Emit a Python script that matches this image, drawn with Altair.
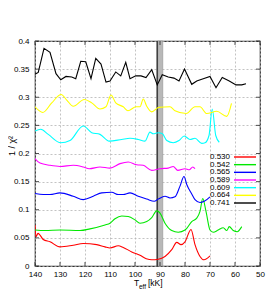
import altair as alt
import pandas as pd

series_names = ["0.530", "0.542", "0.565", "0.589", "0.609", "0.664", "0.741"]
series_colors = ["#ff0000", "#00e800", "#0000ff", "#ff00ff", "#00ffff", "#ffff00", "#000000"]

x_530 = [140, 139.6, 138.8, 138, 136.7, 134, 130, 124.7, 120.7, 115.3, 112, 110, 106.7, 104.7,
         101.3, 98, 95.5, 93.3, 90.7, 88, 85.3, 83.3, 81.6, 80, 77.6, 76, 74, 72.4, 70]
y_530 = [0.073, 0.052, 0.058, 0.055, 0.047, 0.043, 0.034, 0.037, 0.040, 0.038, 0.034, 0.032, 0.036, 0.033,
         0.025, 0.019, 0.013, 0.011, 0.012, 0.017, 0.029, 0.042, 0.038, 0.043, 0.065, 0.038, 0.017, 0.011, 0.018]

x_542 = [140, 136, 130, 122, 118, 112, 110, 108, 105.3, 102.7, 100, 98, 95.3, 93.3, 91.3, 90, 88,
         85.3, 82.7, 80, 79.3, 77.3, 75.3, 74, 72.9, 71.6, 70, 68.7, 66.7, 64.7, 63.3, 62.3, 60.7, 59.1, 57.3]
y_542 = [0.064, 0.063, 0.064, 0.063, 0.066, 0.073, 0.076, 0.084, 0.089, 0.088, 0.082, 0.076, 0.079, 0.086,
         0.098, 0.094, 0.076, 0.063, 0.060, 0.064, 0.067, 0.079, 0.085, 0.097, 0.120, 0.097, 0.064, 0.060,
         0.064, 0.068, 0.063, 0.070, 0.063, 0.061, 0.070]

x_565 = [140, 136.7, 134, 130, 124.7, 120.7, 116.7, 113.3, 109.3, 106.7, 104.7, 102, 98.7, 95.3, 92.3,
         90.7, 88, 86, 84, 82, 80.4, 79.3, 77.3, 76, 74, 72.3, 70]
y_565 = [0.129, 0.127, 0.127, 0.130, 0.124, 0.118, 0.124, 0.130, 0.131, 0.127, 0.127, 0.130, 0.124, 0.119,
         0.115, 0.119, 0.124, 0.121, 0.123, 0.142, 0.159, 0.145, 0.128, 0.118, 0.113, 0.115, 0.123]

x_589 = [140, 138, 134, 130, 124.7, 120.7, 118.3, 114, 110, 106, 102.7, 99.3, 96.7, 93.3, 90, 86.7,
         84.7, 82.9, 80, 78.3, 76.9, 76]
y_589 = [0.191, 0.183, 0.179, 0.177, 0.179, 0.176, 0.173, 0.176, 0.174, 0.182, 0.185, 0.180, 0.179, 0.170,
         0.173, 0.174, 0.177, 0.170, 0.173, 0.171, 0.176, 0.173]

x_609 = [140, 137.7, 134.7, 129.7, 126, 120.7, 117.3, 114, 110.3, 105.3, 102, 98.7, 96, 94, 92.7, 90.7,
         89, 87.3, 84.7, 82.4, 80.3, 78, 76, 73.3, 72, 70.4, 69.1, 67.7, 66.3]
y_609 = [0.240, 0.243, 0.234, 0.219, 0.223, 0.249, 0.237, 0.234, 0.222, 0.225, 0.227, 0.225, 0.222, 0.238,
         0.235, 0.237, 0.235, 0.223, 0.219, 0.223, 0.231, 0.225, 0.227, 0.218, 0.219, 0.232, 0.279, 0.232, 0.220]

x_664 = [140, 136.9, 133.3, 129.5, 127.3, 124.7, 120.3, 117.3, 114, 111.6, 109.6, 107.7, 104.7, 102.8,
         99.6, 98, 96.7, 95.3, 93.3, 90.5, 86, 84, 79.5, 76, 74, 71.3, 67.3, 63.3, 61.4]
y_664 = [0.283, 0.273, 0.290, 0.305, 0.295, 0.284, 0.296, 0.290, 0.279, 0.283, 0.304, 0.290, 0.283, 0.276,
         0.283, 0.283, 0.297, 0.284, 0.274, 0.282, 0.283, 0.276, 0.271, 0.283, 0.283, 0.271, 0.275, 0.266, 0.289]

x_741 = [140, 138.7, 136.4, 134, 131.6, 129.7, 127.6, 125.3, 123.7, 121.7, 119.7, 117.6, 115.7, 113.6,
         111.6, 110, 107.7, 105.7, 103.7, 102, 99.7, 97.6, 95.6, 93.3, 91.1, 89.1, 86.7, 84.4, 82.4, 80.2,
         77.3, 75.3, 72.7, 70, 67.6, 65.1, 62.3, 59.6, 57.3, 55.6]
y_741 = [0.341, 0.344, 0.387, 0.380, 0.342, 0.331, 0.337, 0.336, 0.333, 0.364, 0.363, 0.333, 0.369, 0.359,
         0.327, 0.329, 0.345, 0.338, 0.362, 0.333, 0.338, 0.338, 0.335, 0.349, 0.322, 0.340, 0.336, 0.334,
         0.329, 0.350, 0.323, 0.329, 0.333, 0.337, 0.317, 0.335, 0.329, 0.322, 0.322, 0.324]

x_ticks = [140, 130, 120, 110, 100, 90, 80, 70, 60, 50]
y_ticks = [0, 0.05, 0.1, 0.15, 0.2, 0.25, 0.3, 0.35, 0.4]

band_lo, band_hi = 88.9, 91.1
band_line = 91.1

all_x = [x_530, x_542, x_565, x_589, x_609, x_664, x_741]
all_y = [y_530, y_542, y_565, y_589, y_609, y_664, y_741]

rows = []
for name, xs, ys in zip(series_names, all_x, all_y):
    for i, (a, b) in enumerate(zip(xs, ys)):
        rows.append({"series": name, "teff": a, "chi": b, "i": i})
df = pd.DataFrame(rows)
df_smooth = df[df["series"] != "0.741"]
df_jagged = df[df["series"] == "0.741"]

FONT = "Liberation Sans"
W, H = 225, 225

xscale = alt.Scale(domain=[50, 140], reverse=True, nice=False, zero=False)
yscale = alt.Scale(domain=[0, 0.4], nice=False, zero=False)
color = alt.Color("series:N", scale=alt.Scale(domain=series_names, range=series_colors), legend=None)

xaxis = alt.Axis(values=x_ticks, grid=True, gridDash=[2, 2], gridColor="#b4b4b4", gridWidth=0.8,
                 ticks=False, domain=False, labelFont=FONT, labelFontSize=8, labelColor="#000000",
                 labelPadding=4, labelOverlap=False, labelFlush=False, title=None)
yaxis = alt.Axis(values=y_ticks, grid=True, gridDash=[2, 2], gridColor="#b4b4b4", gridWidth=0.8,
                 ticks=False, domain=False, labelFont=FONT, labelFontSize=8, labelColor="#000000",
                 labelPadding=6, labelOverlap=False, labelFlush=False, format="~g", title=None)


def X(field):
    return alt.X(field, scale=xscale, axis=xaxis)


def Y(field):
    return alt.Y(field, scale=yscale, axis=yaxis)


band_df = pd.DataFrame({"lo": [band_lo], "hi": [band_hi], "b": [0], "t": [0.4]})
band = alt.Chart(band_df).mark_rect(color="#b8b8b8", stroke="#909090", strokeWidth=0.6).encode(
    x=X("lo:Q"), x2="hi:Q", y=Y("b:Q"), y2="t:Q")
bline = alt.Chart(pd.DataFrame({"v": [band_line]})).mark_rule(color="#404040", strokeWidth=1.6).encode(
    x=X("v:Q"), y=alt.value(0), y2=alt.value(H))

lines_s = alt.Chart(df_smooth).mark_line(strokeWidth=1.1, clip=True, interpolate="monotone").encode(
    x=X("teff:Q"), y=Y("chi:Q"), color=color, order="i:Q")
lines_j = alt.Chart(df_jagged).mark_line(strokeWidth=1.1, clip=True).encode(
    x=X("teff:Q"), y=Y("chi:Q"), color=color, order="i:Q")

ytdf = pd.DataFrame({"v": y_ticks})
xtdf = pd.DataFrame({"v": x_ticks})
tk = dict(color="#222222", strokeWidth=0.8)
ticks_l = alt.Chart(ytdf).mark_rule(**tk).encode(y=Y("v:Q"), x=alt.value(0), x2=alt.value(4))
ticks_r = alt.Chart(ytdf).mark_rule(**tk).encode(y=Y("v:Q"), x=alt.value(W - 4), x2=alt.value(W))
ticks_b = alt.Chart(xtdf).mark_rule(**tk).encode(x=X("v:Q"), y=alt.value(H - 4), y2=alt.value(H))
ticks_t = alt.Chart(xtdf).mark_rule(**tk).encode(x=X("v:Q"), y=alt.value(0), y2=alt.value(4))

tdf = pd.DataFrame({"a": [0]})
t_T = alt.Chart(tdf).mark_text(text="T", font=FONT, fontSize=8.5, align="left", baseline="alphabetic",
                               color="#000000").encode(x=alt.value(99), y=alt.value(244.5))
t_eff = alt.Chart(tdf).mark_text(text="eff", font=FONT, fontSize=6.5, align="left", baseline="alphabetic",
                                 color="#000000").encode(x=alt.value(104), y=alt.value(247.5))
t_kK = alt.Chart(tdf).mark_text(text="[kK]", font=FONT, fontSize=8.5, align="left", baseline="alphabetic",
                                color="#000000").encode(x=alt.value(113), y=alt.value(244.5))
t_y = alt.Chart(tdf).mark_text(text="1 / χ²", font=FONT, fontSize=9, angle=270, align="center",
                               baseline="middle", color="#000000").encode(x=alt.value(-23), y=alt.value(105))

main = alt.layer(band, bline, lines_s, lines_j, ticks_l, ticks_r, ticks_b, ticks_t, t_T, t_eff, t_kK, t_y)

ldf = pd.DataFrame({"series": series_names})
lscale = alt.Scale(type="point", domain=series_names, range=[116, 162], padding=0)
leg_text = alt.Chart(ldf).mark_text(font=FONT, fontSize=8, align="right", baseline="middle",
                                    color="#000000").encode(
    x=alt.value(195), y=alt.Y("series:N", scale=lscale, axis=None), text="series:N")
leg_rule = alt.Chart(ldf).mark_rule(strokeWidth=1.4).encode(
    x=alt.value(199), x2=alt.value(221), y=alt.Y("series:N", scale=lscale, axis=None), color=color)
legend = alt.layer(leg_text, leg_rule)

chart = alt.layer(main, legend).resolve_scale(y="independent").properties(
    width=W, height=H,
    autosize=alt.AutoSizeParams(type="none"),
    padding={"left": 27, "top": 33, "right": 6, "bottom": 34},
    background="#ffffff",
).configure_view(stroke="#333333", strokeWidth=1.2)

chart.save("out.html", embed_options={"renderer": "svg", "actions": False})
